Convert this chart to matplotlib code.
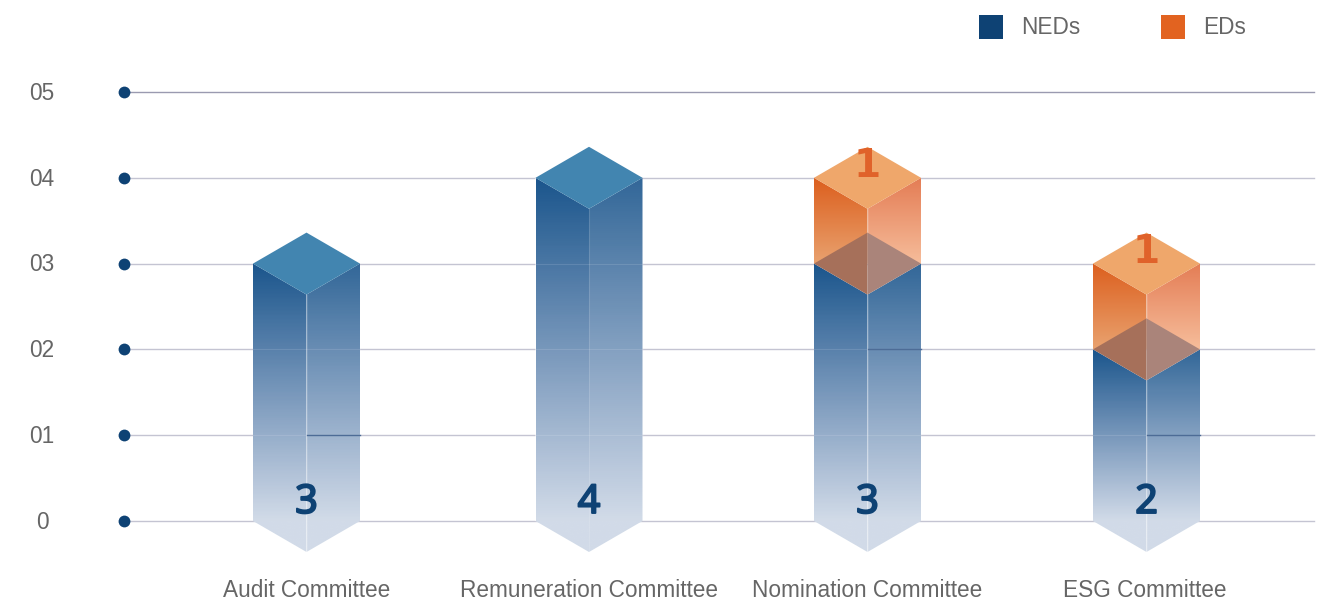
import numpy as np
import matplotlib.pyplot as plt
import matplotlib.patheffects as pe
from matplotlib.colors import to_rgb
from matplotlib.patches import Polygon, Patch

categories = ['Audit Committee', 'Remuneration Committee', 'Nomination Committee', 'ESG Committee']
neds = [3, 4, 3, 2]
eds = [0, 0, 1, 1]
y_ticks = [0, 1, 2, 3, 4, 5]
y_tick_labels = ['0', '01', '02', '03', '04', '05']

# layout, x axis runs in figure pixels because the bars are not evenly spaced
centers = [306.5, 589, 867.5, 1146.5]
label_x = [306.5, 589.5, 867, 1145]
half_w = 53.5
dy = 31 / 85.8       # half height of the diamond, in value units
seam_levels = [1, None, 2, 1]

NAVY = '#0e4274'
ORANGE = '#e26320'
GREY = '#666666'

plt.rcParams['font.family'] = ['Liberation Sans', 'DejaVu Sans']

fig = plt.figure(figsize=(13.39, 6), dpi=100)
ax = fig.add_axes([0, 0, 1, 1])
ax.axis('off')


def face(pts, top, bottom, c_top, c_bottom, a_top, a_bottom, z=3.0):
    # vertical gradient clipped to a polygon, flat below "bottom"
    ys = np.linspace(top, min(p[1] for p in pts), 200)
    t = np.clip((top - ys) / (top - bottom), 0, 1)[:, None]
    rgb = np.array(to_rgb(c_top)) * (1 - t) + np.array(to_rgb(c_bottom)) * t
    alpha = a_top * (1 - t) + a_bottom * t
    img = np.dstack([rgb[:, None, :], alpha[:, None, :]])
    xs = [p[0] for p in pts]
    im = ax.imshow(img, origin='upper', aspect='auto', interpolation='bilinear', zorder=z,
                   extent=[min(xs), max(xs), min(p[1] for p in pts), top])
    poly = Polygon(pts, closed=True, transform=ax.transData, fc='none', ec='none')
    ax.add_patch(poly)
    im.set_clip_path(poly)


def block(c, y0, y1, bottom, left_cols, right_cols, tip=False):
    low = y0 - dy if tip else y0
    left = [(c - half_w, y1), (c, y1 - dy), (c, low), (c - half_w, y0)]
    right = [(c, y1 - dy), (c + half_w, y1), (c + half_w, y0), (c, low)]
    # white backing so the grid does not run through the bar
    outline = [(c - half_w, y1), (c, y1 - dy), (c + half_w, y1), (c + half_w, y0), (c, low), (c - half_w, y0)]
    ax.add_patch(Polygon(outline, fc='white', ec='none', zorder=2.5))
    face(left, y1, bottom, *left_cols, z=3.0)
    face(right, y1, bottom, *right_cols, z=3.1)
    ax.plot([c, c], [low, y1 - dy], color='white', lw=0.8, alpha=0.12, zorder=4)


def diamond(c, y, color, z=5):
    ax.add_patch(Polygon([(c - half_w, y), (c, y + dy), (c + half_w, y), (c, y - dy)], fc=color, ec='none', zorder=z))


# grid with dots
for v in y_ticks:
    ax.plot([124, 1314], [v, v], color='#9a9ab0' if v == 5 else '#c4c4d2', lw=1, zorder=1)
ax.plot([124] * len(y_ticks), y_ticks, 'o', color=NAVY, ms=8.5, mec='none', zorder=2)
for v, lab in zip(y_ticks, y_tick_labels):
    ax.text(42, v - 0.015, lab, ha='center', va='center', fontsize=16.3, color=GREY)

blue_l = ('#104e87', '#1a4a8c', 0.96, 0.2)
blue_r = ('#104e87', '#1a4a8c', 0.86, 0.2)
orange_l = ('#dc5f1e', '#e9a26f', 1, 1)
orange_r = ('#e47d55', '#f6bd9b', 1, 1)

for c, lx, name, n, e, seam in zip(centers, label_x, categories, neds, eds, seam_levels):
    block(c, 0, n, 0, blue_l, blue_r, tip=True)
    # grid shows faintly through the bar
    for v in range(1, n):
        ax.plot([c - half_w, c + half_w], [v, v], color='white', lw=0.8, alpha=0.12, zorder=4)
    if seam is not None:
        ax.plot([c, c + half_w], [seam, seam], color='#4d6c96', lw=1, zorder=4)
    if e:
        block(c, n, n + e, n, orange_l, orange_r)
        # top of the blue part seen through the orange one
        ax.add_patch(Polygon([(c - half_w, n), (c, n + dy), (c, n - dy)], fc='#a6705a', ec='none', zorder=5))
        ax.add_patch(Polygon([(c, n + dy), (c + half_w, n), (c, n - dy)], fc='#aa847a', ec='none', zorder=5))
        diamond(c, n + e, '#efa76b')
        ax.text(c, n + e + 0.14, str(e), ha='center', va='center', fontsize=28, fontweight='bold',
                family='DejaVu Sans', color='#e0622a', zorder=6)
    else:
        diamond(c, n, '#4285b0')
    # regular face thickened with a stroke, the bold one comes out too wide
    ax.text(c, 0.21, str(n), ha='center', va='center', fontsize=28.5, family='Noto Sans', color=NAVY, zorder=6,
            path_effects=[pe.withStroke(linewidth=1.4, foreground=NAVY)])
    ax.text(lx, -0.805, name, ha='center', va='center', fontsize=16.3, color=GREY)

handles = [Patch(fc=NAVY, ec='none', label='NEDs'), Patch(fc=ORANGE, ec='none', label='EDs')]
leg = ax.legend(handles=handles, ncols=2, loc='upper left', bbox_to_anchor=(979, 5.90), bbox_transform=ax.transData,
                frameon=False, fontsize=16.3, labelcolor=GREY, borderpad=0, borderaxespad=0,
                handlelength=1.06, handleheight=1.25, handletextpad=0.8, columnspacing=3.56)

ax.set_xlim(0, 1339)
ax.set_ylim(-79 / 85.8, 521 / 85.8)
fig.savefig('out.png', dpi=100)
